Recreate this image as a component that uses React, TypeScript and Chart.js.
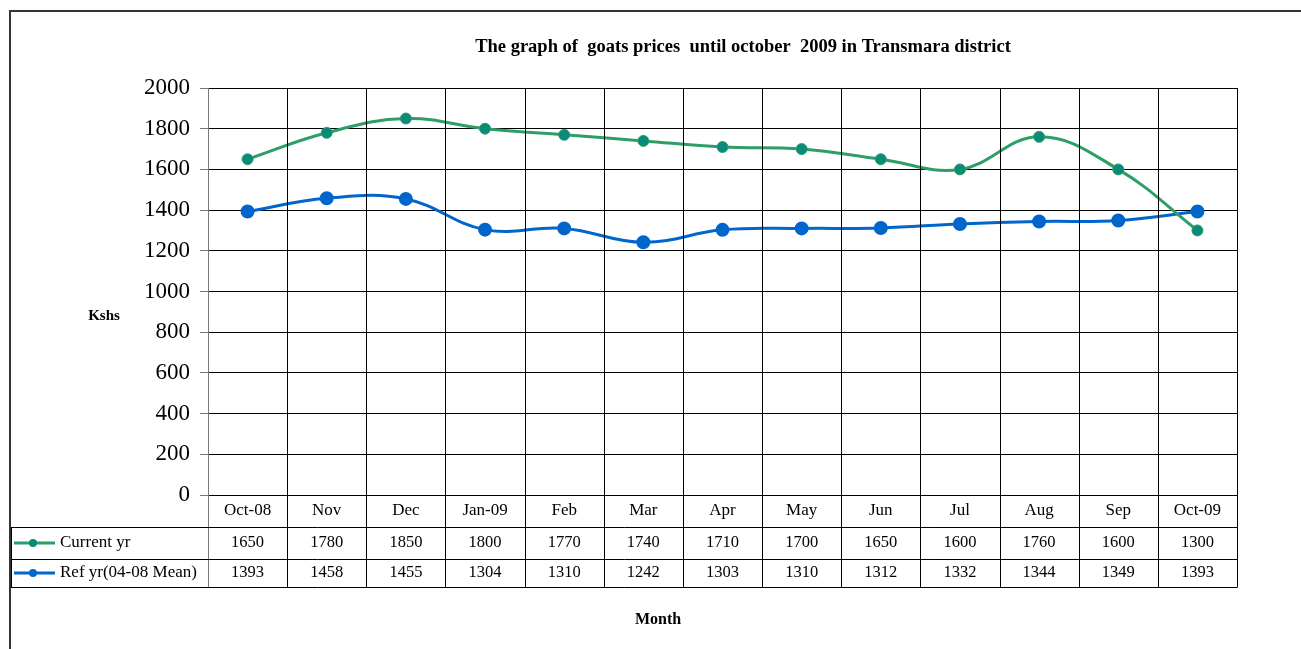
import React, { useEffect, useRef } from "react";
import { Chart, registerables } from "chart.js";

Chart.register(...registerables);

const categories = ["Oct-08", "Nov", "Dec", "Jan-09", "Feb", "Mar", "Apr", "May", "Jun", "Jul", "Aug", "Sep", "Oct-09"];
const currentYr = [1650, 1780, 1850, 1800, 1770, 1740, 1710, 1700, 1650, 1600, 1760, 1600, 1300];
const refYr = [1393, 1458, 1455, 1304, 1310, 1242, 1303, 1310, 1312, 1332, 1344, 1349, 1393];
const seriesNames = ["Current yr", "Ref yr(04-08 Mean)"];
const titleText = "The graph of  goats prices  until october  2009 in Transmara district";
const yTitle = "Kshs";
const xTitle = "Month";

const GREEN = "#2E9E68";
const GREEN_PT = "#0A8A78";
const BLUE = "#0066CC";
const SERIF = "'Liberation Serif', 'Times New Roman', serif";

const tablePlugin = {
  id: "tablePlugin",
  afterDraw(chart: any) {
    const ctx = chart.ctx as CanvasRenderingContext2D;
    const area = chart.chartArea;
    const x = chart.scales.x;
    const n = categories.length;
    const w = (area.right - area.left) / n;
    const rowTop = area.bottom;
    const r1 = rowTop + 32;
    const r2 = r1 + 32;
    const r3 = r2 + 28;
    ctx.save();
    // frame
    ctx.strokeStyle = "#333";
    ctx.lineWidth = 2;
    ctx.beginPath();
    ctx.moveTo(10, 649);
    ctx.lineTo(10, 11);
    ctx.lineTo(1301, 11);
    ctx.stroke();

    // vertical lines
    ctx.lineWidth = 1;
    for (let i = 0; i <= n; i++) {
      const px = Math.round(area.left + i * w) + 0.5;
      ctx.strokeStyle = i === 0 ? "#777" : "#000";
      ctx.beginPath();
      ctx.moveTo(px, area.top);
      ctx.lineTo(px, r3);
      ctx.stroke();
    }
    // horizontal table lines
    ctx.strokeStyle = "#000";
    [r1, r2, r3].forEach((yy) => {
      ctx.beginPath();
      ctx.moveTo(11, Math.round(yy) + 0.5);
      ctx.lineTo(Math.round(area.right) + 0.5, Math.round(yy) + 0.5);
      ctx.stroke();
    });
    ctx.beginPath();
    ctx.moveTo(11.5, r1);
    ctx.lineTo(11.5, r3);
    ctx.stroke();

    // text
    ctx.fillStyle = "#000";
    ctx.textAlign = "center";
    ctx.textBaseline = "middle";
    categories.forEach((c, i) => {
      const cx = x.getPixelForValue(i);
      ctx.font = `17px ${SERIF}`;
      ctx.fillText(c, cx, (rowTop + r1) / 2);
      ctx.font = `16.5px ${SERIF}`;
      ctx.fillText(String(currentYr[i]), cx, (r1 + r2) / 2);
      ctx.fillText(String(refYr[i]), cx, (r2 + r3) / 2);
    });
    // legend keys
    const keys = [
      { name: seriesNames[0], color: GREEN, pt: GREEN_PT, y: (r1 + r2) / 2 },
      { name: seriesNames[1], color: BLUE, pt: BLUE, y: (r2 + r3) / 2 },
    ];
    keys.forEach((k) => {
      ctx.strokeStyle = k.color;
      ctx.lineWidth = 3;
      ctx.beginPath();
      ctx.moveTo(14, k.y);
      ctx.lineTo(55, k.y);
      ctx.stroke();
      ctx.fillStyle = k.pt;
      ctx.beginPath();
      ctx.arc(33, k.y, 4, 0, Math.PI * 2);
      ctx.fill();
      ctx.fillStyle = "#000";
      ctx.textAlign = "left";
      ctx.font = `17px ${SERIF}`;
      ctx.fillText(k.name, 60, k.y);
    });

    // titles
    ctx.textAlign = "center";
    ctx.font = `bold 18.5px ${SERIF}`;
    ctx.fillText(titleText, 743, 47);
    ctx.font = `bold 15px ${SERIF}`;
    ctx.fillText(yTitle, 104, 316);
    ctx.font = `bold 16px ${SERIF}`;
    ctx.fillText(xTitle, 658, 620);
    ctx.restore();
  },
};

export default function App() {
  const ref = useRef<HTMLCanvasElement>(null);
  useEffect(() => {
    if (!ref.current) return;
    const chart = new Chart(ref.current, {
      type: "line",
      data: {
        labels: categories,
        datasets: [
          {
            label: seriesNames[0],
            data: currentYr,
            borderColor: GREEN,
            backgroundColor: GREEN_PT,
            pointBackgroundColor: GREEN_PT,
            pointBorderColor: GREEN,
            pointBorderWidth: 1,
            pointRadius: 5.5,
            borderWidth: 3,
            tension: 0.4,
          },
          {
            label: seriesNames[1],
            data: refYr,
            borderColor: BLUE,
            backgroundColor: BLUE,
            pointBackgroundColor: BLUE,
            pointBorderColor: BLUE,
            pointRadius: 5.5,
            borderWidth: 3,
            tension: 0.4,
          },
        ],
      },
      options: {
        animation: false,
        responsive: false,
        layout: { padding: { left: 138, right: 64, top: 88, bottom: 154 } },
        plugins: { legend: { display: false }, tooltip: { enabled: false }, title: { display: false } },
        scales: {
          x: { display: false, offset: true },
          y: {
            min: 0,
            max: 2000,
            afterFit: (s: any) => {
              s.width = 70;
            },
            ticks: {
              stepSize: 200,
              color: "#000",
              padding: 10,
              font: { family: SERIF, size: 23 },
              callback: (v: any) => String(v),
            },
            grid: { color: "#000", lineWidth: 1, tickLength: 8, tickColor: "#777" },
            border: { color: "#777", width: 1 },
          },
        },
      },
      plugins: [tablePlugin],
    });
    return () => chart.destroy();
  }, []);
  return (
    <div style={{ position: "fixed", left: 0, top: 0, width: 1301, height: 649, background: "#fff" }}>
      <canvas ref={ref} width={1301} height={649} style={{ display: "block" }} />
    </div>
  );
}
